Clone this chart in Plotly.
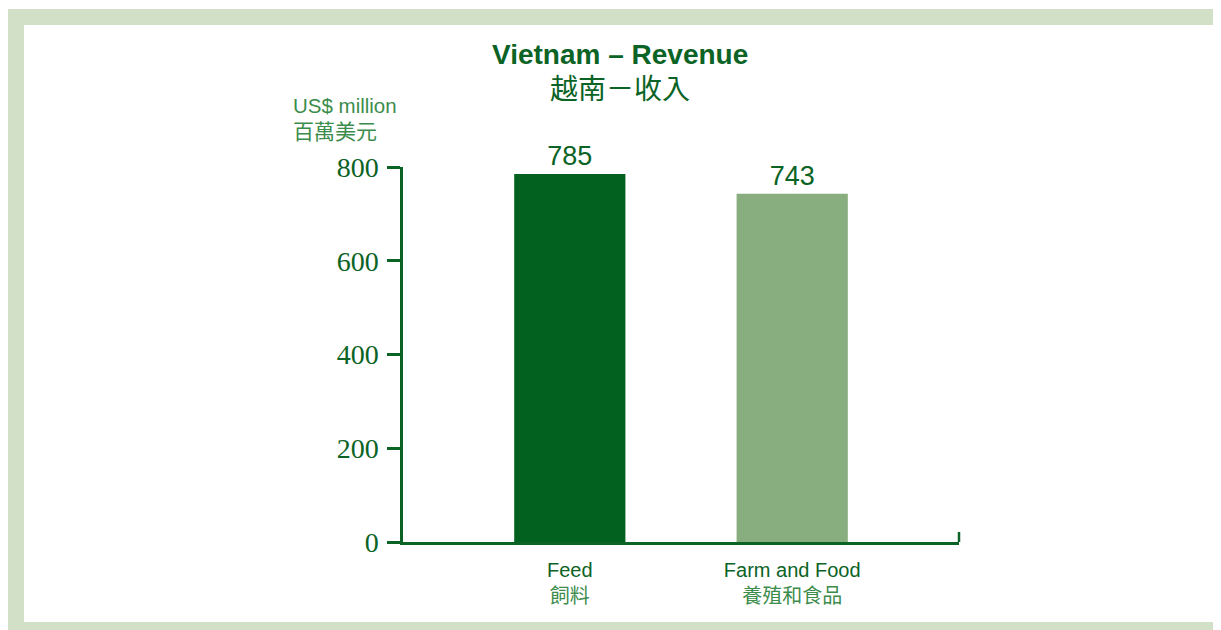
import plotly.graph_objects as go

categories_en = ["Feed", "Farm and Food"]
categories_zh = ["飼料", "養殖和食品"]
revenue = [785, 743]
bar_colors = ["#02611e", "#88ad7e"]
y_ticks = [0, 200, 400, 600, 800]

# page is offset by 8px body margin
OFF = 8
W, H = 1213, 622
L, T = 403 - OFF, 167 - OFF
R = W - (959 - OFF)
B = H - (542 - OFF)
pw, ph = W - L - R, H - T - B

def px(x):  # page x -> paper
    return (x - OFF - L) / pw

def py(y):  # page y -> paper
    return (H - B - (y - OFF)) / ph

DARK = "#0b6325"
LIGHT = "#3c8c4c"
SANS = "Liberation Sans, Arial, Noto Sans CJK TC, sans-serif"
CJK = "Noto Sans CJK TC, Noto Sans CJK SC, sans-serif"

ticktext = [
    f"<span style='color:{DARK}'>{e}</span><br><span style='color:{LIGHT};font-family:Noto Sans CJK TC'>{z}</span>"
    for e, z in zip(categories_en, categories_zh)
]

fig = go.Figure()
fig.add_trace(go.Bar(
    x=categories_en, y=revenue,
    marker=dict(color=bar_colors, line=dict(width=0)),
    width=0.5,
    text=[str(v) for v in revenue], textposition="outside",
    textfont=dict(family=SANS, size=27, color=DARK),
    cliponaxis=False,
))

shapes = [
    dict(type="rect", xref="paper", yref="paper", x0=px(24), x1=px(1218), y0=py(622), y1=py(25),
         fillcolor="white", line=dict(width=0), layer="below"),
    dict(type="rect", xref="paper", yref="paper", x0=px(0), x1=px(1221), y0=py(9), y1=py(7),
         fillcolor="white", line=dict(width=0), layer="below"),
    dict(type="line", xref="paper", yref="paper", x0=px(959), x1=px(959), y0=py(542), y1=py(532),
         line=dict(color=DARK, width=2.5)),
]

annotations = [
    dict(text="<b>Vietnam – Revenue</b>", x=px(620), y=py(54), xref="paper", yref="paper",
         showarrow=False, font=dict(family=SANS, size=28, color=DARK), xanchor="center", yanchor="middle"),
    dict(text="越南－收入", x=px(620), y=py(87), xref="paper", yref="paper",
         showarrow=False, font=dict(family=CJK, size=28, color=DARK), xanchor="center", yanchor="middle"),
    dict(text="US$ million", x=px(291), y=py(105), xref="paper", yref="paper",
         showarrow=False, font=dict(family=SANS, size=20.5, color=LIGHT), xanchor="left", yanchor="middle"),
    dict(text="百萬美元", x=px(291), y=py(130), xref="paper", yref="paper",
         showarrow=False, font=dict(family=CJK, size=21, color=LIGHT), xanchor="left", yanchor="middle"),
]

fig.update_layout(
    width=W, height=H,
    margin=dict(l=L, r=R, t=T, b=B, pad=0),
    paper_bgcolor="#d3e0c8", plot_bgcolor="rgba(0,0,0,0)",
    showlegend=False, bargap=0.5,
    shapes=shapes, annotations=annotations,
    xaxis=dict(
        range=[-0.75, 1.75], tickvals=categories_en, ticktext=ticktext,
        showline=True, linecolor=DARK, linewidth=2.5, ticks="", showgrid=False, zeroline=False,
        tickfont=dict(family=SANS, size=20, color=DARK), fixedrange=True,
        ticklabelstandoff=8,
    ),
    yaxis=dict(
        range=[0, 800], tickvals=y_ticks, showline=True, linecolor=DARK, linewidth=2.5,
        ticks="outside", ticklen=13, tickwidth=2.5, tickcolor=DARK, showgrid=False, zeroline=False,
        tickfont=dict(family="Liberation Serif, DejaVu Serif, serif", size=28, color=DARK),
        ticklabelstandoff=3,
    ),
)

fig.write_html("out.html")
